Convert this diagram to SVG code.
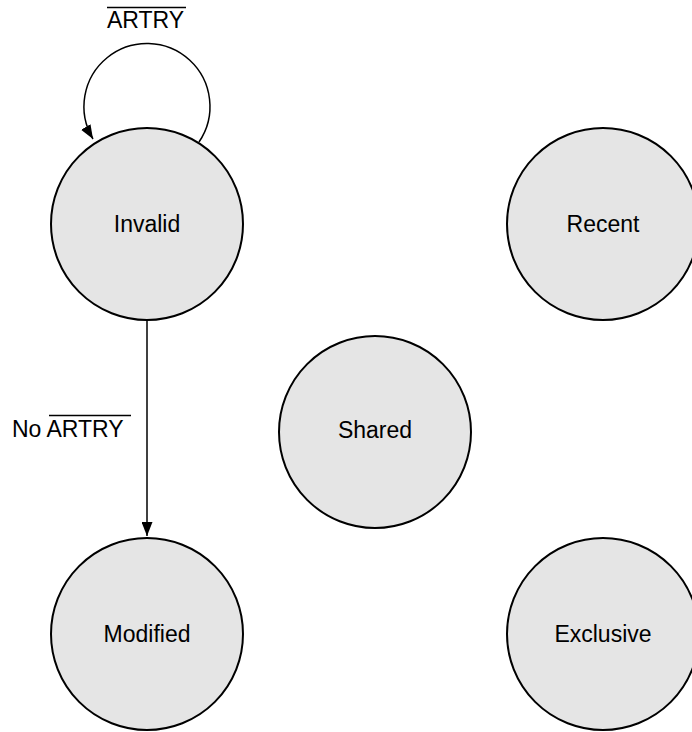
<svg xmlns="http://www.w3.org/2000/svg" width="692" height="732" viewBox="0 0 692 732">
<style>
.st{fill:#e5e5e5;stroke:#000;stroke-width:2}
.lb{font-family:"Liberation Sans",Arial,sans-serif;font-size:23px;fill:#000}
.ln{fill:none;stroke:#000;stroke-width:1.5}
</style>
<defs>
<marker id="ah" viewBox="0 0 14 11" refX="14" refY="5.5" markerWidth="14" markerHeight="11" markerUnits="userSpaceOnUse" orient="auto">
<path d="M0,0 L14,5.5 L0,11 Z" fill="#000"/>
</marker>
</defs>
<rect width="692" height="732" fill="#fff"/>
<g id="connectors">
<path class="ln" d="M199,142 A63,63 0 1 0 93,139" marker-end="url(#ah)"/>
<line class="ln" x1="147" y1="320" x2="147" y2="536" marker-end="url(#ah)"/>
<text class="lb" x="107" y="28">ARTRY</text>
<line x1="107" y1="7.5" x2="186" y2="7.5" stroke="#000" stroke-width="1.5"/>
<text class="lb" x="12" y="437">No ARTRY</text>
<line x1="49" y1="415.5" x2="131" y2="415.5" stroke="#000" stroke-width="1.5"/>
</g>
<g id="invalid"><circle class="st" cx="147" cy="224" r="96"/><text class="lb" x="147" y="232" text-anchor="middle">Invalid</text></g>
<g id="recent"><circle class="st" cx="603" cy="224" r="96"/><text class="lb" x="603" y="232" text-anchor="middle">Recent</text></g>
<g id="shared"><circle class="st" cx="375" cy="432" r="96"/><text class="lb" x="375" y="438" text-anchor="middle">Shared</text></g>
<g id="modified"><circle class="st" cx="147" cy="634" r="96"/><text class="lb" x="147" y="642" text-anchor="middle">Modified</text></g>
<g id="exclusive"><circle class="st" cx="603" cy="634" r="96"/><text class="lb" x="603" y="642" text-anchor="middle">Exclusive</text></g>
</svg>
